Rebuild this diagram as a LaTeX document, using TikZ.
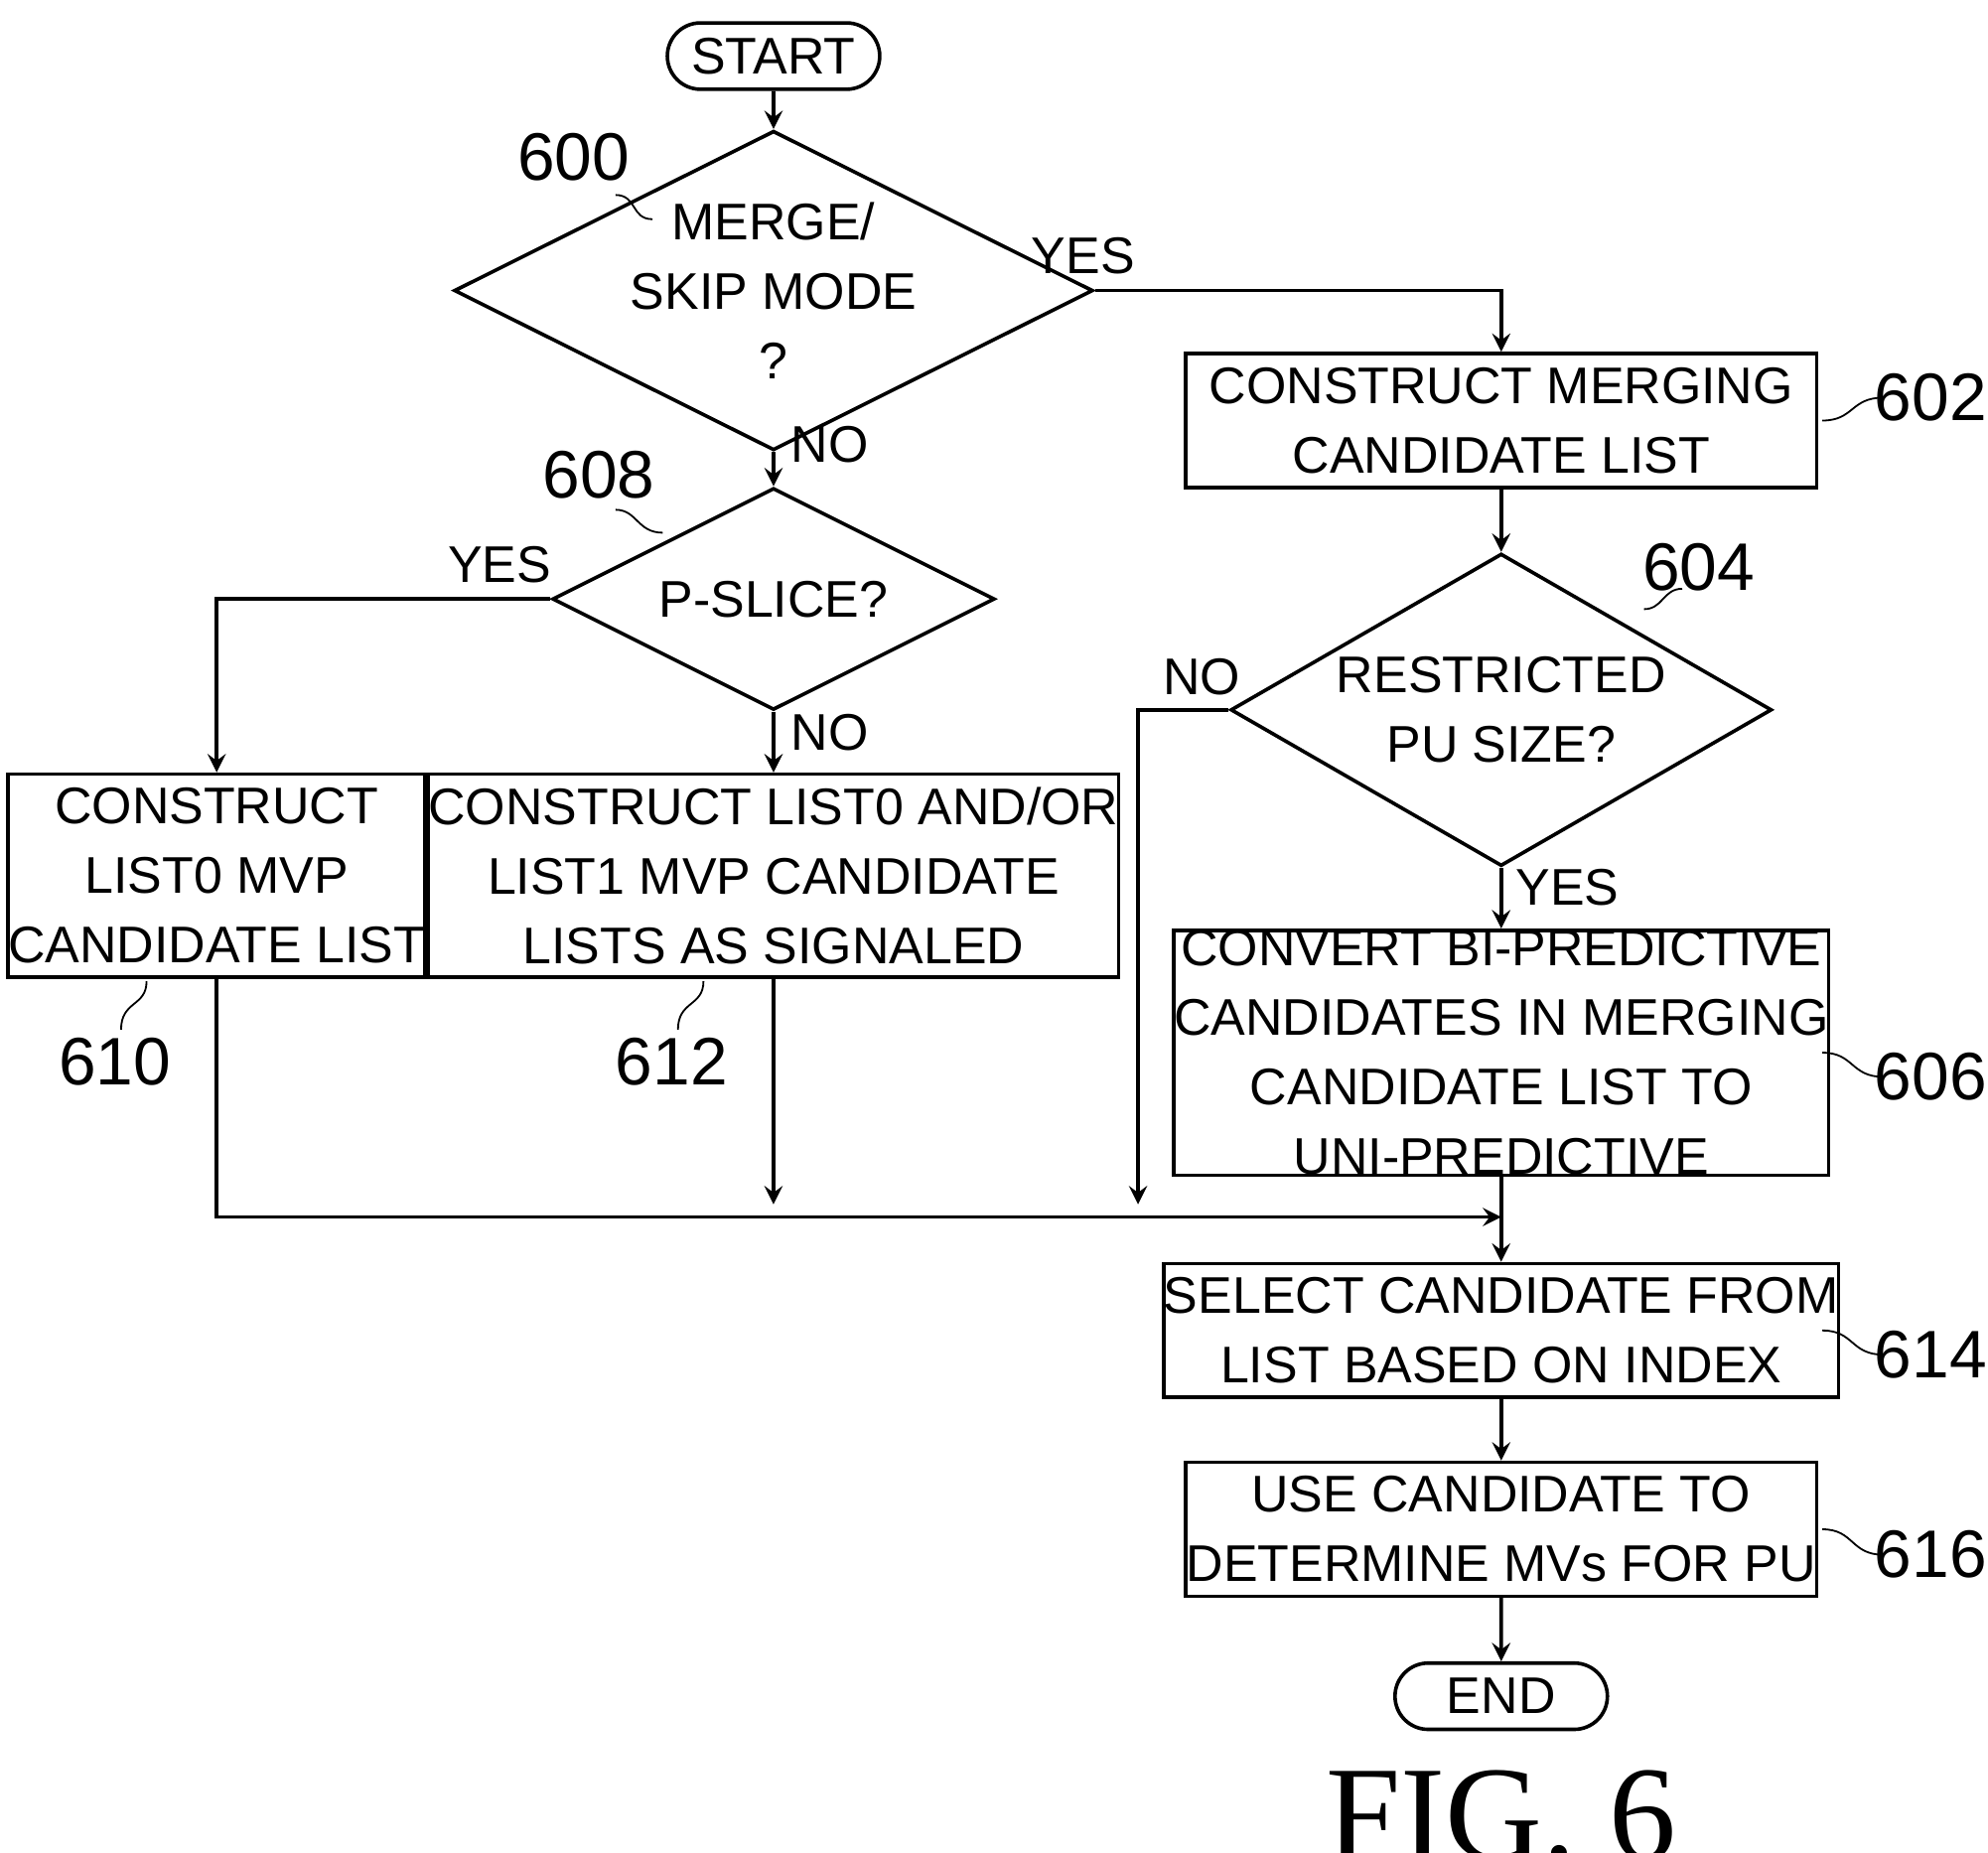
\documentclass[tikz,border=0pt]{standalone}
\usepackage{fontspec}
\setmainfont{Liberation Sans}
\usetikzlibrary{shapes.geometric,shapes.misc,calc}
\begin{document}
\begin{tikzpicture}[x=0.01cm,y=-0.01cm,>=stealth,
  proc/.style={draw,thick,rectangle,align=center,font=\fontsize{11.5}{15.5}\selectfont,inner sep=0pt},
  term/.style={draw,thick,rounded rectangle,minimum width=1.9cm,minimum height=0.52cm,font=\fontsize{11.5}{14}\selectfont},
  test/.style={draw,thick,diamond,aspect=2,align=center,inner sep=0pt,font=\fontsize{11.5}{15.5}\selectfont},
  num/.style={font=\fontsize{15}{18}\selectfont},
  yn/.style={font=\fontsize{11.5}{14}\selectfont}]

  \useasboundingbox (0,0) rectangle (1560,1454);

  % terminals
  \node[term] (start) at (607,44) {START};
  \node[term] (end) at (1178,1331) {END};

  % decisions
  \node[test,minimum width=4.2cm,minimum height=2.1cm] (merge) at (607,228) {MERGE/\\SKIP MODE\\?};
  \node[test,minimum width=3.47cm,minimum height=1.74cm] (pslice) at (607,470) {P-SLICE?};
  \node[test,minimum width=4.23cm,minimum height=2.45cm] (restr) at (1178,557) {RESTRICTED\\PU SIZE?};

  % steps
  \node[proc,minimum width=4.95cm,minimum height=1.05cm] (mlist) at (1178,330) {CONSTRUCT MERGING\\CANDIDATE LIST};
  \node[proc,minimum width=4.95cm,minimum height=1.92cm] (conv) at (1178,826)
       {CONVERT BI-PREDICTIVE\\CANDIDATES IN MERGING\\CANDIDATE LIST TO\\UNI-PREDICTIVE};
  \node[proc,minimum width=3.05cm,minimum height=1.59cm] (lzero) at (170,687) {CONSTRUCT\\LIST0 MVP\\CANDIDATE LIST};
  \node[proc,minimum width=4.99cm,minimum height=1.59cm] (lboth) at (607,687)
       {CONSTRUCT LIST0 AND/OR\\LIST1 MVP CANDIDATE\\LISTS AS SIGNALED};
  \node[proc,minimum width=4.95cm,minimum height=1.05cm] (select) at (1178,1044) {SELECT CANDIDATE FROM\\LIST BASED ON INDEX};
  \node[proc,minimum width=4.95cm,minimum height=1.05cm] (use) at (1178,1200) {USE CANDIDATE TO\\DETERMINE MVs FOR PU};

  \coordinate (join) at (1178,955);

  % connectors
  \draw[thick,->] (start)--(merge);
  \draw[thick,->] (merge.east) -| (mlist.north);
  \draw[thick,->] (merge.south)--(pslice.north);
  \draw[thick,->] (pslice.west) -| (lzero.north);
  \draw[thick,->] (pslice.south)--(lboth.north);
  \draw[thick,->] (mlist)--(restr.north);
  \draw[thick,->] (restr.south)--(conv.north);
  \draw[thick,->] (restr.west) -| (893,945);
  \draw[thick,->] (lzero.south) |- (join);
  \draw[thick,->] (lboth.south)--(607,945);
  \draw[thick,->] (conv.south)--(select.north);
  \draw[thick,->] (select)--(use);
  \draw[thick,->] (use)--(end);

  \node[yn] at (850,201) {YES};
  \node[yn] at (651,349) {NO};
  \node[yn] at (392,443) {YES};
  \node[yn] at (651,575) {NO};
  \node[yn] at (943,531) {NO};
  \node[yn] at (1230,696) {YES};

  % reference numerals
  \node[num] (n600) at (450,123) {600};
  \draw[thin] (483,153) .. controls (500,153) and (495,172) .. (512,172);
  \node[num] (n608) at (470,373) {608};
  \draw[thin] (483,400) .. controls (500,400) and (500,418) .. (520,418);
  \node[num] (n604) at (1333,445) {604};
  \draw[thin] (1290,478) .. controls (1305,478) and (1305,462) .. (1320,462);
  \node[num] (n602) at (1515,312) {602};
  \draw[thin] (1430,330) .. controls (1455,330) and (1452,312) .. (1478,312);
  \node[num] (n606) at (1515,845) {606};
  \draw[thin] (1430,826) .. controls (1455,826) and (1452,845) .. (1478,845);
  \node[num] (n614) at (1515,1063) {614};
  \draw[thin] (1430,1044) .. controls (1455,1044) and (1452,1063) .. (1478,1063);
  \node[num] (n616) at (1515,1220) {616};
  \draw[thin] (1430,1200) .. controls (1455,1200) and (1452,1220) .. (1478,1220);
  \node[num] (n610) at (90,833) {610};
  \draw[thin] (115,770) .. controls (115,790) and (95,785) .. (95,808);
  \node[num] (n612) at (527,833) {612};
  \draw[thin] (552,770) .. controls (552,790) and (532,785) .. (532,808);

  \node[font=\fontspec{Liberation Serif}\fontsize{30}{34}\selectfont] (fig) at (1178,1425) {FIG. 6};

\end{tikzpicture}
\end{document}
